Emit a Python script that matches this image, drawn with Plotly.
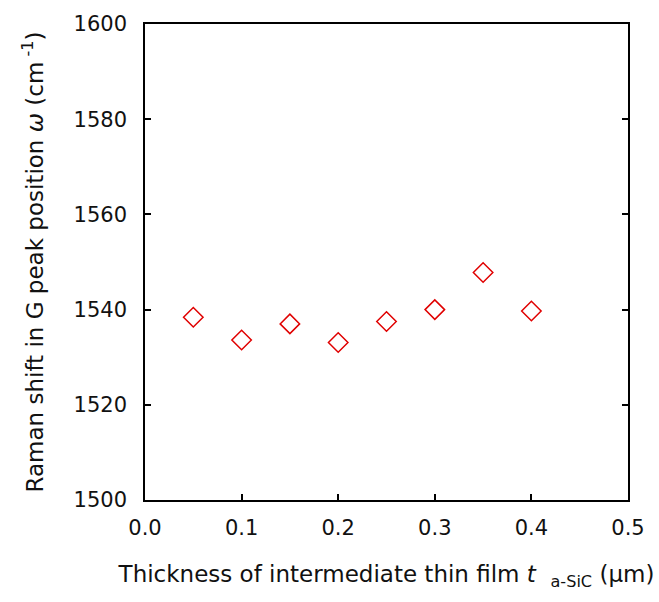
import plotly.graph_objects as go

thickness_um = [0.05, 0.10, 0.15, 0.20, 0.25, 0.30, 0.35, 0.40]
g_peak_cm1 = [1538.4, 1533.6, 1537.0, 1533.1, 1537.5, 1540.0, 1547.8, 1539.7]

x_ticks = [0.0, 0.1, 0.2, 0.3, 0.4, 0.5]
x_ticklabels = ["0.0", "0.1", "0.2", "0.3", "0.4", "0.5"]
y_ticks = [1500, 1520, 1540, 1560, 1580, 1600]
y_ticklabels = ["1500", "1520", "1540", "1560", "1580", "1600"]

FONT = "DejaVu Sans"

fig = go.Figure()
fig.add_trace(go.Scatter(
    x=thickness_um, y=g_peak_cm1, mode="markers",
    marker=dict(symbol="diamond-open", size=15, color="#e00000",
                line=dict(width=1.5, color="#e00000")),
    showlegend=False, cliponaxis=False,
))

fig.update_layout(
    width=659, height=602,
    margin=dict(l=145, r=31, t=13, b=102),
    plot_bgcolor="white", paper_bgcolor="white",
    font=dict(family=FONT, size=21, color="#111111"),
    xaxis=dict(
        range=[0, 0.5], tickvals=x_ticks, ticktext=x_ticklabels,
        ticks="inside", ticklen=6, tickwidth=1.5, tickcolor="black",
        showline=True, linecolor="black", linewidth=1.5, mirror=True,
        showgrid=False, zeroline=False,
        tickfont=dict(size=21, family=FONT), ticklabelstandoff=8,
        title=dict(text="Thickness of intermediate thin film <i>t</i>  <sub>a-SiC</sub> (μm)",
                   font=dict(size=23, family=FONT), standoff=27),
    ),
    yaxis=dict(
        range=[1500, 1600], tickvals=y_ticks, ticktext=y_ticklabels,
        ticks="inside", ticklen=6, tickwidth=1.5, tickcolor="black",
        showline=True, linecolor="black", linewidth=1.5, mirror="ticks",
        showgrid=False, zeroline=False,
        tickfont=dict(size=21, family=FONT), ticklabelstandoff=12,
        title=dict(text="Raman shift in G peak position <i>ω</i> (cm<sup> -1</sup>)",
                   font=dict(size=23, family=FONT), standoff=24),
    ),
)

fig.write_html("out.html")
